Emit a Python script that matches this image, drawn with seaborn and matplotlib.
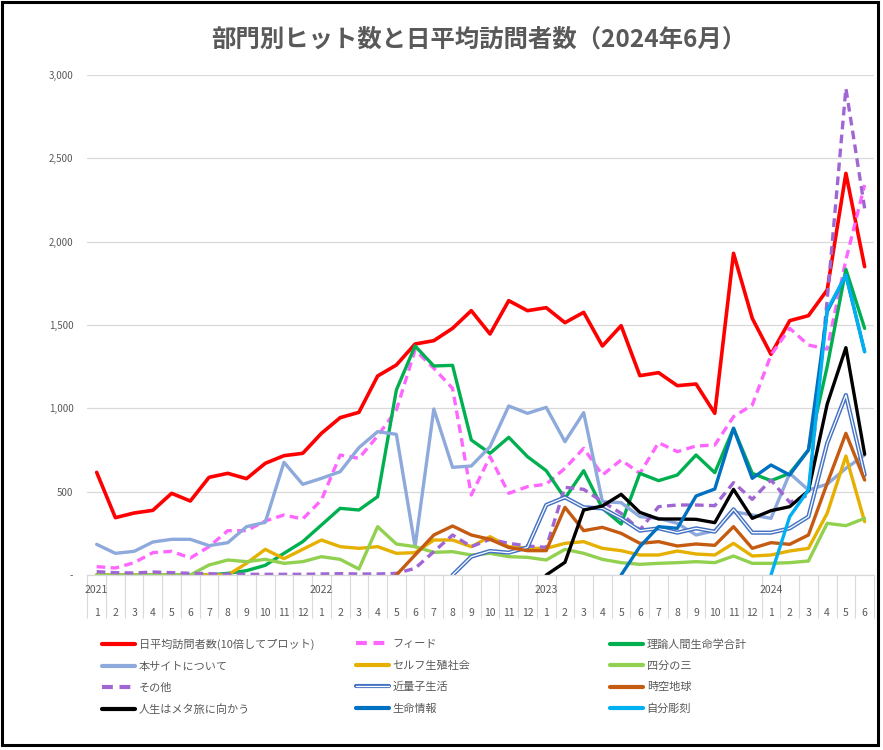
import numpy as np
import matplotlib
matplotlib.use("Agg")
import matplotlib.pyplot as plt
import matplotlib.patheffects as pe
from matplotlib.patches import Rectangle
from matplotlib.ticker import FuncFormatter
import seaborn as sns

nan = np.nan

# 2021/1 .. 2024/6
month_labels = [str(m) for m in list(range(1, 13)) * 3 + list(range(1, 7))]
year_labels = ["2021", "2022", "2023", "2024"]
year_pos = [0, 12, 24, 36]

visitors = [616, 344, 372, 388, 490, 444, 586, 610, 578, 670,
            716, 730, 850, 944, 976, 1194, 1260, 1386, 1406, 1480,
            1586, 1446, 1646, 1586, 1604, 1514, 1576, 1374, 1496, 1196,
            1214, 1136, 1146, 970, 1930, 1540, 1324, 1526, 1556, 1710,
            2410, 1850]
feed = [50, 42, 74, 134, 142, 102, 170, 266, 266, 324,
        360, 336, 450, 720, 700, 834, 990, 1350, 1240, 1120,
        480, 710, 490, 530, 545, 640, 760, 600, 690, 610,
        794, 740, 774, 780, 950, 1020, 1320, 1480, 1380, 1355,
        1890, 2340]
riron = [0, 0, 0, 0, 0, 0, 0, 10, 26, 58,
         130, 200, 300, 400, 390, 470, 1110, 1374, 1254, 1258,
         810, 730, 826, 710, 626, 460, 626, 400, 306, 610,
         566, 600, 720, 614, 880, 610, 566, 610, 750, 1250,
         1834, 1480]
about = [184, 130, 142, 198, 214, 214, 176, 194, 290, 316,
         676, 544, 580, 620, 764, 860, 844, 170, 996, 646,
         654, 770, 1014, 970, 1006, 800, 974, 440, 434, 350,
         340, 310, 240, 266, 380, 360, 340, 610, 510, 545,
         640, 720]
self_repro = [0, 0, 0, 0, 0, 0, 0, 0, 70, 154,
              98, 154, 210, 170, 160, 170, 130, 134, 210, 210,
              170, 230, 170, 160, 160, 190, 200, 160, 146, 120,
              120, 144, 126, 120, 190, 114, 120, 144, 160, 370,
              714, 320]
three_quarters = [0, 0, 0, 0, 0, 0, 60, 90, 80, 94,
                  70, 80, 110, 94, 36, 290, 186, 170, 136, 140,
                  120, 130, 110, 106, 90, 154, 130, 94, 74, 64,
                  70, 74, 80, 74, 114, 70, 70, 74, 84, 310,
                  296, 340]
other = [20, 14, 12, 18, 14, 10, 8, 4, 4, 4,
         4, 4, 6, 8, 6, 6, 10, 40, 140, 240,
         170, 214, 190, 174, 166, 526, 514, 440, 370, 270,
         410, 420, 420, 416, 554, 454, 570, 436, 480, 1650,
         2920, 2200]
quantum = [nan] * 19 + [0, 110, 144, 134, 166, 420, 466, 406, 400, 340, 266,
                        280, 254, 280, 260, 394, 254, 254, 280, 350, 790,
                        1080, 600]
spacetime = [nan] * 16 + [0, 120, 240, 294, 240, 214, 165, 146, 146, 406,
                          266, 286, 250, 190, 200, 174, 186, 178, 290, 160,
                          194, 184, 240, 550, 850, 570]
meta_trip = [nan] * 24 + [0, 76, 390, 414, 484, 376, 336, 336, 334, 314,
                          514, 340, 386, 410, 505, 1025, 1364, 725]
life_info = [nan] * 28 + [0, 170, 290, 280, 474, 516, 880, 580, 660, 600,
                          750, 1580, 1800, 1340]
sculpture = [nan] * 36 + [0, 350, 510, 1590, 1800, 1340]

series = [
    ("日平均訪問者数(10倍してプロット)", visitors),
    ("フィード", feed),
    ("理論人間生命学合計", riron),
    ("本サイトについて", about),
    ("セルフ生殖社会", self_repro),
    ("四分の三", three_quarters),
    ("その他", other),
    ("近量子生活", quantum),
    ("時空地球", spacetime),
    ("人生はメタ旅に向かう", meta_trip),
    ("生命情報", life_info),
    ("自分彫刻", sculpture),
]

dash = (0, (2.6, 1.6))
styles = [
    dict(color="#FF0000", lw=2.6),
    dict(color="#FF66FF", lw=2.4, linestyle=dash, dash_capstyle="butt"),
    dict(color="#00B050", lw=2.4),
    dict(color="#8EA9DB", lw=2.4),
    dict(color="#E6B000", lw=2.4),
    dict(color="#92D050", lw=2.4),
    dict(color="#A066D3", lw=2.4, linestyle=dash, dash_capstyle="butt"),
    dict(color="white", lw=0.9,
         path_effects=[pe.Stroke(linewidth=3.0, foreground="#4472C4"), pe.Normal()]),
    dict(color="#C55A11", lw=2.4),
    dict(color="#000000", lw=2.4),
    dict(color="#0070C0", lw=2.4),
    dict(color="#00B0F0", lw=2.4),
]

sns.set_theme(style="white")
plt.rcParams["font.family"] = ["Noto Sans CJK JP", "DejaVu Sans"]
TXT = "#595959"
GRID = "#D9D9D9"

W, H = 883, 750
fig = plt.figure(figsize=(W / 100, H / 100), dpi=100)
fig.patch.set_facecolor("white")
ax = fig.add_axes([87.3 / W, 175 / H, (874 - 87.3) / W, 500 / H])

x = np.arange(len(month_labels))
for (name, vals), st in zip(series, styles):
    sns.lineplot(x=x, y=vals, ax=ax, label=name, legend=False, errorbar=None, **st)

ax.set_xlim(-0.5, len(month_labels) - 0.5)
ax.set_ylim(0, 3000)
ax.set_yticks(range(0, 3001, 500))
ax.yaxis.set_major_formatter(FuncFormatter(lambda v, p: "-" if v == 0 else f"{int(v):,}"))
ax.yaxis.grid(True, color=GRID, lw=0.9)
ax.xaxis.grid(False)
for s in ["left", "top", "right"]:
    ax.spines[s].set_visible(False)
ax.spines["bottom"].set_color(GRID)
ax.spines["bottom"].set_linewidth(0.9)
ax.set_xlabel("")
ax.set_ylabel("")

ax.set_xticks(x)
ax.set_xticklabels(month_labels)
ax.set_xticks(np.arange(-0.5, len(month_labels), 1), minor=True)
ax.tick_params(axis="x", which="major", length=0, pad=24, labelsize=7.5, labelcolor=TXT)
ax.tick_params(axis="x", which="minor", bottom=True, length=31, width=0.8, color=GRID)
ax.tick_params(axis="y", length=0, pad=10, labelsize=7, labelcolor=TXT)

for pos, yl in zip(year_pos, year_labels):
    ax.text(pos, -0.03, yl, transform=ax.get_xaxis_transform(),
            ha="center", va="center", fontsize=7.5, color=TXT)

fig.text(479 / W, 1 - 40 / H, "部門別ヒット数と日平均訪問者数（2024年6月）",
         ha="center", va="center", fontsize=17.6, fontweight="bold", color=TXT)

# legend: 3 columns filled row by row, like the original
handles, labels = ax.get_legend_handles_labels()
for col, xpx in enumerate([102, 356, 610]):
    idx = [col, col + 3, col + 6, col + 9]
    leg = fig.legend([handles[i] for i in idx], [labels[i] for i in idx],
                     loc="upper left", bbox_to_anchor=(xpx / W, 1 - 639 / H),
                     frameon=False, fontsize=8, handlelength=3.0, handletextpad=0.3,
                     labelspacing=1.02, borderpad=0, borderaxespad=0, labelcolor=TXT)
    for ln in leg.get_lines():
        if ln.get_path_effects():
            continue
        ln.set_linewidth(3.0)

fig.add_artist(Rectangle((2 / W, 5 / H), 876 / W, 743 / H, transform=fig.transFigure,
                         fill=False, edgecolor="black", lw=2.2))

fig.savefig("out.png", dpi=100, facecolor="white")
